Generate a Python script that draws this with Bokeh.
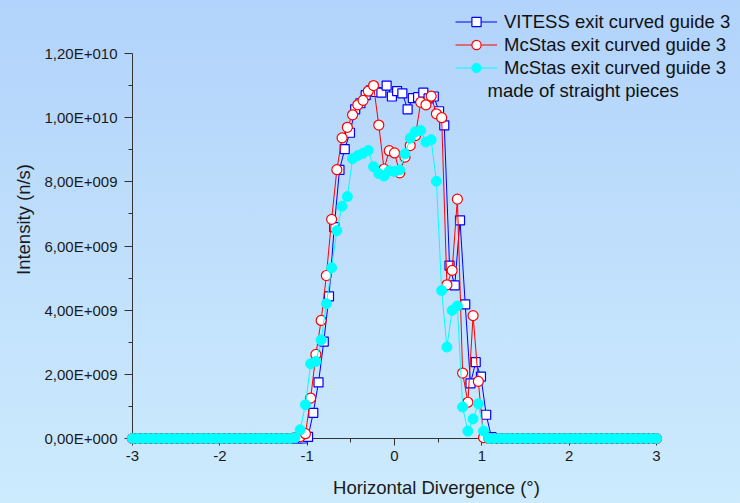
import numpy as np
from bokeh.plotting import figure
from bokeh.models import FixedTicker, Legend, LegendItem, Label, Range1d
from bokeh.embed import file_html
from bokeh.resources import INLINE

# ---------------- data ----------------
# VITESS bins (centres -2.97 ... 2.97, step 0.06)
vitess_x = [round(-2.97 + 0.06 * i, 2) for i in range(100)]
vitess_nonzero = {
    -0.99: 0.05, -0.93: 0.8, -0.87: 1.75, -0.81: 3.02, -0.75: 4.43, -0.69: 6.59,
    -0.63: 8.37, -0.57: 9.02, -0.51: 9.53, -0.45: 10.26, -0.39: 10.45, -0.33: 10.7,
    -0.27: 10.85, -0.21: 10.8, -0.15: 10.78, -0.09: 11.0, -0.03: 10.66, 0.03: 10.83,
    0.09: 10.76, 0.15: 10.26, 0.21: 10.61, 0.27: 10.64, 0.33: 10.78, 0.39: 10.6,
    0.45: 10.66, 0.51: 10.2, 0.57: 9.76, 0.63: 5.39, 0.69: 4.77, 0.75: 6.8,
    0.81: 4.18, 0.87: 1.72, 0.93: 2.38, 0.99: 1.93, 1.05: 0.74, 1.11: 0.04,
}
vitess_y = [vitess_nonzero.get(x, 0.0) * 1e9 for x in vitess_x]

# McStas bins (-3 ... 3, step 0.06)
mcstas_x = [round(-3.0 + 0.06 * i, 2) for i in range(101)]
mcstas_nonzero = {
    -1.14: 0.03, -1.08: 0.06, -1.02: 0.15, -0.96: 1.26, -0.9: 2.62, -0.84: 3.68,
    -0.78: 5.08, -0.72: 6.83, -0.66: 8.38, -0.6: 9.37, -0.54: 9.7, -0.48: 10.09,
    -0.42: 10.4, -0.36: 10.54, -0.3: 10.83, -0.24: 11.0, -0.18: 9.77, -0.12: 8.4,
    -0.06: 8.97, 0.0: 8.9, 0.06: 8.28, 0.12: 8.77, 0.18: 9.13, 0.24: 9.44,
    0.3: 10.48, 0.36: 10.4, 0.42: 10.67, 0.48: 10.12, 0.54: 10.0, 0.6: 4.79,
    0.66: 5.24, 0.72: 7.46, 0.78: 2.04, 0.84: 1.13, 0.9: 3.83, 0.96: 1.78, 1.02: 0.03,
}
mcstas_y = [mcstas_nonzero.get(x, 0.0) * 1e9 for x in mcstas_x]

straight_x = mcstas_x
straight_nonzero = {
    -1.14: 0.02, -1.08: 0.27, -1.02: 1.05, -0.96: 2.33, -0.9: 2.4, -0.84: 3.07,
    -0.78: 4.2, -0.72: 5.32, -0.66: 6.48, -0.6: 7.24, -0.54: 7.54, -0.48: 8.72,
    -0.42: 8.82, -0.36: 8.89, -0.3: 8.98, -0.24: 8.47, -0.18: 8.26, -0.12: 8.18,
    -0.06: 8.34, 0.0: 8.32, 0.06: 8.37, 0.12: 8.87, 0.18: 9.36, 0.24: 9.56,
    0.3: 9.6, 0.36: 9.24, 0.42: 9.31, 0.48: 8.02, 0.54: 4.61, 0.6: 2.85,
    0.66: 3.99, 0.72: 4.13, 0.78: 0.98, 0.84: 0.23, 0.9: 0.61, 0.96: 1.08, 1.02: 0.23,
}
straight_y = [straight_nonzero.get(x, 0.0) * 1e9 for x in straight_x]

x_ticks = [-3, -2, -1, 0, 1, 2, 3]
x_tick_labels = ["-3", "-2", "-1", "0", "1", "2", "3"]
x_minor = [-2.5, -1.5, -0.5, 0.5, 1.5, 2.5]
y_ticks = [0, 2e9, 4e9, 6e9, 8e9, 1e10, 1.2e10]
y_tick_labels = ["0,00E+000", "2,00E+009", "4,00E+009", "6,00E+009",
                 "8,00E+009", "1,00E+010", "1,20E+010"]
y_minor = [1e9, 3e9, 5e9, 7e9, 9e9, 1.1e10]

legend_labels = ["VITESS exit curved guide 3", "McStas exit curved guide 3",
                 "McStas exit curved guide 3"]
legend_extra = "made of straight pieces"

# ---------------- figure ----------------
FONT = "Liberation Sans"
W, H = 740, 503
# frame: left 132 .. right edge, top edge .. bottom 438; axes span -3..3 and 0..1.2e10
x_end = 3 + (W - 656) / (524 / 6)
y_end = 1.2e10 + 53 / (385 / 1.2e10)
p = figure(width=W, height=H, output_backend="svg", toolbar_location=None,
           x_range=Range1d(-3, x_end), y_range=Range1d(0, y_end),
           min_border_left=132, min_border_right=0, min_border_top=0,
           min_border_bottom=H - 438)
p.styles = {"background": "linear-gradient(to bottom, #b2d3fb, #cdebfd)"}
p.background_fill_alpha = 0
p.border_fill_alpha = 0
p.outline_line_color = None
p.grid.visible = False

for ax in (p.xaxis[0], p.yaxis[0]):
    ax.axis_line_color = "#333333"
    ax.major_tick_line_color = "#333333"
    ax.minor_tick_line_color = "#333333"
    ax.major_tick_in = 0
    ax.minor_tick_in = 0
    ax.minor_tick_out = 4
    ax.major_label_text_font = FONT
    ax.major_label_text_font_size = "15px"
    ax.major_label_text_color = "#1a1a1a"
    ax.axis_label_text_font = FONT
    ax.axis_label_text_font_size = "18.5px"
    ax.axis_label_text_font_style = "normal"
    ax.axis_label_text_color = "#1a1a1a"

p.xaxis.major_tick_out = 7
p.xaxis.major_label_standoff = 5
p.yaxis.major_tick_out = 8
p.yaxis.major_label_standoff = 7
p.xaxis.bounds = (-3, 3)
p.yaxis.bounds = (0, 1.2e10)

p.xaxis.ticker = FixedTicker(ticks=x_ticks, minor_ticks=x_minor)
p.yaxis.ticker = FixedTicker(ticks=y_ticks, minor_ticks=y_minor)
p.xaxis.major_label_overrides = {t: l for t, l in zip(x_ticks, x_tick_labels)}
p.yaxis.major_label_overrides = {t: l for t, l in zip(y_ticks, y_tick_labels)}
p.xaxis.axis_label = "Horizontal Divergence (°)"
p.yaxis.axis_label = "Intensity (n/s)"
p.xaxis.axis_label_standoff = 13
p.yaxis.axis_label_standoff = 8

l1 = p.line(vitess_x, vitess_y, line_color="#0000ff", line_width=1, level="overlay")
m1 = p.scatter(vitess_x, vitess_y, marker="square", size=9, line_color="#0000ff",
               fill_color="white", line_width=1.2, level="overlay")
l2 = p.line(mcstas_x, mcstas_y, line_color="#ff0000", line_width=1, level="overlay")
m2 = p.scatter(mcstas_x, mcstas_y, marker="circle", size=10, line_color="#ff0000",
               fill_color="white", line_width=1.2, level="overlay")
l3 = p.line(straight_x, straight_y, line_color="#00ffff", line_width=1, level="overlay")
m3 = p.scatter(straight_x, straight_y, marker="circle", size=10, line_color="#00ffff",
               fill_color="#00ffff", level="overlay")

legend = Legend(items=[LegendItem(label=legend_labels[0], renderers=[l1, m1]),
                       LegendItem(label=legend_labels[1], renderers=[l2, m2]),
                       LegendItem(label=legend_labels[2], renderers=[l3, m3])],
                location=(323, 359), orientation="vertical")
legend.background_fill_alpha = 0
legend.border_line_color = None
legend.padding = 0
legend.margin = 0
legend.spacing = 0
legend.glyph_width = 42
legend.glyph_height = 23
legend.label_height = 23
legend.label_standoff = 7
legend.label_text_font = FONT
legend.label_text_font_size = "18.5px"
legend.label_text_color = "#111111"
p.add_layout(legend, "center")

extra = Label(x=(487 - 394) / (524 / 6), y=(438 - 90) / (385 / 1.2e10),
              text=legend_extra, text_font=FONT,
              text_font_size="18.5px", text_color="#111111",
              text_baseline="middle", text_align="left")
p.add_layout(extra)

open("out.html", "w").write(file_html(p, INLINE))
